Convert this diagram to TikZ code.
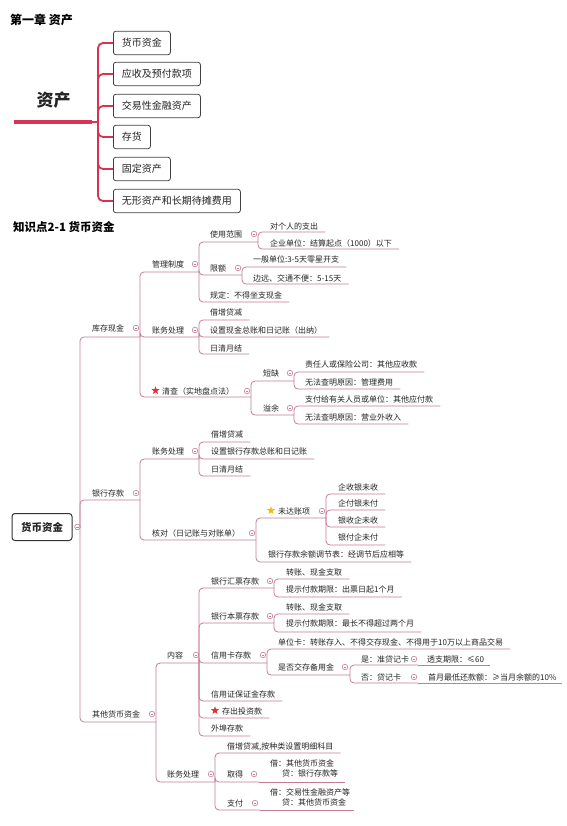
\documentclass[tikz,border=0pt]{standalone}
\usepackage{fontspec}
\usepackage{xcolor}
\usepackage{tikz}
\usetikzlibrary{shapes.geometric}
\setmainfont{Noto Sans CJK SC}

\definecolor{txtgray}{RGB}{36,36,36}
\definecolor{linepink}{RGB}{198,124,150}
\definecolor{brred}{RGB}{214,52,82}
\definecolor{boxgray}{RGB}{64,64,64}
\definecolor{starred}{RGB}{228,48,48}
\definecolor{stargold}{RGB}{245,185,20}

\begin{document}
\begin{tikzpicture}[x=1pt, y=-1pt,
  every node/.style={text=txtgray},
  topic/.style={anchor=west, inner sep=0pt, font=\fontsize{8}{10}\selectfont},
  fold/.style={circle, draw=linepink, fill=white, line width=0.6pt, minimum size=5.6pt, inner sep=0pt,
    path picture={\draw[linepink, line width=0.6pt] ([xshift=1.4pt]path picture bounding box.west) -- ([xshift=-1.4pt]path picture bounding box.east);}},
  branch/.style={draw=linepink, line width=0.8pt, rounded corners=4pt},
  catbox/.style={draw=boxgray, line width=0.8pt, rounded corners=2.5pt, fill=white, anchor=west,
    inner xsep=8.5pt, inner ysep=0pt, minimum height=23.5pt, font=\fontsize{10}{12}\selectfont},
  rootbox/.style={draw=black!80, line width=1pt, rounded corners=3pt, fill=white, inner sep=0pt,
    minimum width=60pt, minimum height=27pt, font=\fontsize{10.5}{12}\selectfont\bfseries},
  bigbar/.style={draw=brred, line width=1.8pt, rounded corners=5pt},
  hotstar/.style={star, star points=5, star point ratio=2.4, inner sep=0pt, minimum size=8.5pt, draw=none}]

  % ---------- canvas ----------
  \fill[white] (0,0) rectangle (566,826);
  \useasboundingbox (0,0) rectangle (566,826);

  % ---------- PART 1: chapter overview ----------
  \node[anchor=west, inner sep=0pt, text=black, font=\fontsize{12}{14}\selectfont\bfseries] (chap) at (10,20) {第一章 资产};
  \node[inner sep=0pt, font=\fontsize{17}{20}\selectfont\bfseries] (zc) at (53.5,100) {资产};
  \coordinate (bar-l) at (14,122);
  \coordinate (bar-r) at (92,122);
  \coordinate (hub) at (98,122);
  \draw[brred, line width=3.6pt] (bar-l) -- (bar-r);
  \draw[bigbar] (bar-r) -- (hub);
  \node[catbox] (c1) at (113,43) {货币资金};
  \node[catbox] (c2) at (113,74) {应收及预付款项};
  \node[catbox] (c3) at (113,106) {交易性金融资产};
  \node[catbox] (c4) at (113,137) {存货};
  \node[catbox] (c5) at (113,169) {固定资产};
  \node[catbox] (c6) at (113,201) {无形资产和长期待摊费用};
  \foreach \c in {c1,c2,c3,c4,c5,c6} \draw[bigbar] (hub) |- (\c.west);

  % ---------- PART 2: mind map ----------
  \node[anchor=west, inner sep=0pt, text=black, font=\fontsize{11.5}{14}\selectfont\bfseries] (kp) at (13,227) {知识点2-1 货币资金};
  \node[rootbox] (root) at (42,527) {货币资金};
  \node[fold] (root-f) at (77.5,527) {};
  \coordinate (root-e) at (80,527);

  % level 1
  \node[topic] (kc) at (92,328) {库存现金};
  \node[fold] (kc-f) at (136,328) {};
  \coordinate (kc-e) at (140,337);
  \node[topic] (yh) at (92,493) {银行存款};
  \node[fold] (yh-f) at (136,493) {};
  \coordinate (yh-e) at (140,500);
  \node[topic] (qt) at (92,714) {其他货币资金};
  \node[fold] (qt-f) at (152,714) {};
  \coordinate (qt-e) at (156,722);
  \foreach \p in {kc,yh,qt} \draw[branch] (root-e) |- (\p-e);

  % ---------- 库存现金 ----------
  \node[topic] (gl) at (152,264) {管理制度};
  \node[fold] (gl-f) at (195,264) {};
  \coordinate (gl-e) at (199,272);
  \node[topic] (zw1) at (152,330) {账务处理};
  \node[fold] (zw1-f) at (195,330) {};
  \coordinate (zw1-e) at (199,337);
  \node[hotstar, fill=starred] (qc-s) at (155.5,390.5) {};
  \node[topic] (qc) at (162,391) {清查（实地盘点法）};
  \node[fold] (qc-f) at (247,391) {};
  \coordinate (qc-e) at (251,397);
  \foreach \p in {gl,zw1,qc} \draw[branch] (kc-e) |- (\p-e);

  % 管理制度
  \node[topic] (sy) at (210,234) {使用范围};
  \node[fold] (sy-f) at (254,234) {};
  \coordinate (sy-e) at (258,242);
  \node[topic] (xe) at (210,268) {限额};
  \node[fold] (xe-f) at (238,268) {};
  \coordinate (xe-e) at (242,275);
  \node[topic] (gd) at (210,295) {规定：不得坐支现金};
  \coordinate (gd-e) at ([xshift=7pt]gd.east |- 0,302);
  \foreach \p in {sy,xe,gd} \draw[branch] (gl-e) |- (\p-e);

  \foreach \n/\y/\uy/\txt in {gr/226/232/对个人的支出, qydw/243/249/企业单位：结算起点（1000）以下} {
    \node[topic] (\n) at (270,\y) {\txt};
    \coordinate (\n-e) at ([xshift=7pt]\n.east |- 0,\uy);
    \draw[branch] (sy-e) |- (\n-e);
  }
  \foreach \n/\y/\uy/\txt in {yb/259/267/一般单位:3-5天零星开支, by/278/284/边远、交通不便：5-15天} {
    \node[topic] (\n) at (253,\y) {\txt};
    \coordinate (\n-e) at ([xshift=7pt]\n.east |- 0,\uy);
    \draw[branch] (xe-e) |- (\n-e);
  }

  % 账务处理 (cash)
  \foreach \n/\y/\uy/\txt in {j1/312/320/借增贷减, sz1/330/337/设置现金总账和日记账（出纳）, rq1/348/354/日清月结} {
    \node[topic] (\n) at (210,\y) {\txt};
    \coordinate (\n-e) at ([xshift=7pt]\n.east |- 0,\uy);
    \draw[branch] (zw1-e) |- (\n-e);
  }

  % 清查
  \node[topic] (dq) at (263,373) {短缺};
  \node[fold] (dq-f) at (290,373) {};
  \coordinate (dq-e) at (294,381);
  \node[topic] (yy) at (263,408) {溢余};
  \node[fold] (yy-f) at (290,408) {};
  \coordinate (yy-e) at (294,415);
  \foreach \p in {dq,yy} \draw[branch] (qc-e) |- (\p-e);
  \foreach \n/\y/\uy/\txt in {zr/364/372/责任人或保险公司：其他应收款, wf1/382/389/无法查明原因：管理费用} {
    \node[topic] (\n) at (305,\y) {\txt};
    \coordinate (\n-e) at ([xshift=7pt]\n.east |- 0,\uy);
    \draw[branch] (dq-e) |- (\n-e);
  }
  \foreach \n/\y/\uy/\txt in {zf1/399/406/支付给有关人员或单位：其他应付款, wf2/417/424/无法查明原因：营业外收入} {
    \node[topic] (\n) at (305,\y) {\txt};
    \coordinate (\n-e) at ([xshift=7pt]\n.east |- 0,\uy);
    \draw[branch] (yy-e) |- (\n-e);
  }

  % ---------- 银行存款 ----------
  \node[topic] (zw2) at (152,451) {账务处理};
  \node[fold] (zw2-f) at (195,451) {};
  \coordinate (zw2-e) at (199,459);
  \node[topic] (hd) at (152,533) {核对（日记账与对账单）};
  \node[fold] (hd-f) at (252,533) {};
  \coordinate (hd-e) at (256,540);
  \foreach \p in {zw2,hd} \draw[branch] (yh-e) |- (\p-e);
  \foreach \n/\y/\uy/\txt in {j2/434/442/借增贷减, sz2/451/459/设置银行存款总账和日记账, rq2/469/476/日清月结} {
    \node[topic] (\n) at (211,\y) {\txt};
    \coordinate (\n-e) at ([xshift=7pt]\n.east |- 0,\uy);
    \draw[branch] (zw2-e) |- (\n-e);
  }

  % 核对
  \node[hotstar, fill=stargold] (wd-s) at (271,510.5) {};
  \node[topic] (wd) at (278,511) {未达账项};
  \node[fold] (wd-f) at (322,511) {};
  \coordinate (wd-e) at (326,518);
  \node[topic] (tj) at (268,554) {银行存款余额调节表：经调节后应相等};
  \coordinate (tj-e) at ([xshift=7pt]tj.east |- 0,562);
  \foreach \p in {wd,tj} \draw[branch] (hd-e) |- (\p-e);
  \foreach \n/\y/\uy/\txt in {w1/487/494/企收银未收, w2/503/510/企付银未付, w3/520/527/银收企未收, w4/537/545/银付企未付} {
    \node[topic] (\n) at (338,\y) {\txt};
    \coordinate (\n-e) at ([xshift=7pt]\n.east |- 0,\uy);
    \draw[branch] (wd-e) |- (\n-e);
  }

  % ---------- 其他货币资金 ----------
  \node[topic] (nr) at (167,655) {内容};
  \node[fold] (nr-f) at (196,655) {};
  \coordinate (nr-e) at (199,663);
  \node[topic] (zw3) at (167,774) {账务处理};
  \node[fold] (zw3-f) at (211,774) {};
  \coordinate (zw3-e) at (215,782);
  \foreach \p in {nr,zw3} \draw[branch] (qt-e) |- (\p-e);

  % 内容
  \node[topic] (hp) at (211,581) {银行汇票存款};
  \node[fold] (hp-f) at (270,581) {};
  \coordinate (hp-e) at (274,588);
  \node[topic] (bp) at (211,616) {银行本票存款};
  \node[fold] (bp-f) at (270,616) {};
  \coordinate (bp-e) at (274,623);
  \node[topic] (xy) at (211,655) {信用卡存款};
  \node[fold] (xy-f) at (263,655) {};
  \coordinate (xy-e) at (267,663);
  \node[topic] (bz) at (211,694) {信用证保证金存款};
  \coordinate (bz-e) at ([xshift=7pt]bz.east |- 0,701);
  \node[hotstar, fill=starred] (ck-s) at (215,710.5) {};
  \node[topic] (ck) at (222,711) {存出投资款};
  \coordinate (ck-e) at ([xshift=7pt]ck.east |- 0,718);
  \node[topic] (wb) at (211,728) {外埠存款};
  \coordinate (wb-e) at ([xshift=7pt]wb.east |- 0,736);
  \foreach \p in {hp,bp,xy,bz,ck,wb} \draw[branch] (nr-e) |- (\p-e);

  \foreach \n/\y/\uy/\txt in {hp1/572/579/转账、现金支取, hp2/589/597/提示付款期限：出票日起1个月} {
    \node[topic] (\n) at (286,\y) {\txt};
    \coordinate (\n-e) at ([xshift=7pt]\n.east |- 0,\uy);
    \draw[branch] (hp-e) |- (\n-e);
  }
  \foreach \n/\y/\uy/\txt in {bp1/607/614/转账、现金支取, bp2/623/632/提示付款期限：最长不得超过两个月} {
    \node[topic] (\n) at (286,\y) {\txt};
    \coordinate (\n-e) at ([xshift=7pt]\n.east |- 0,\uy);
    \draw[branch] (bp-e) |- (\n-e);
  }

  % 信用卡存款
  \node[topic] (dw) at (278,642) {单位卡：转账存入、不得交存现金、不得用于10万以上商品交易};
  \coordinate (dw-e) at ([xshift=7pt]dw.east |- 0,649);
  \node[topic] (sf) at (278,667) {是否交存备用金};
  \node[fold] (sf-f) at (345,667) {};
  \coordinate (sf-e) at (350,675);
  \foreach \p in {dw,sf} \draw[branch] (xy-e) |- (\p-e);
  \node[topic] (zd) at (361,659) {是：准贷记卡};
  \node[fold] (zd-f) at (414,659) {};
  \coordinate (zd-e) at (418,665);
  \node[topic] (dj) at (361,677) {否：贷记卡};
  \node[fold] (dj-f) at (414,677) {};
  \coordinate (dj-e) at (418,683);
  \foreach \p in {zd,dj} \draw[branch] (sf-e) |- (\p-e);
  \node[topic] (tz) at (427,659) {透支期限：≤60};
  \coordinate (tz-e) at ([xshift=6pt]tz.east |- 0,665);
  \node[topic] (hk) at (428,677) {首月最低还款额：≥当月余额的10\%};
  \coordinate (hk-e) at ([xshift=5pt]hk.east |- 0,683);
  \draw[branch] (zd-e) -- (tz-e);
  \draw[branch] (dj-e) -- (hk-e);

  % 账务处理 (other funds)
  \node[topic] (mx) at (227,747) {借增贷减,按种类设置明细科目};
  \coordinate (mx-e) at ([xshift=7pt]mx.east |- 0,753);
  \node[topic] (qd) at (227,774) {取得};
  \node[fold] (qd-f) at (254,774) {};
  \coordinate (qd-e) at (259,782);
  \node[topic] (zf) at (227,803) {支付};
  \node[fold] (zf-f) at (255,803) {};
  \coordinate (zf-e) at (260,810);
  \foreach \p in {mx,qd,zf} \draw[branch] (zw3-e) |- (\p-e);
  \node[topic, align=left] (jd1) at (270,768) {借：其他货币资金\\\hspace*{12pt}贷：银行存款等};
  \coordinate (jd1-e) at ([xshift=7pt]jd1.east |- 0,782);
  \node[topic, align=left] (jd2) at (270,797.5) {借：交易性金融资产等\\\hspace*{12pt}贷：其他货币资金};
  \coordinate (jd2-e) at ([xshift=4pt]jd2.east |- 0,810);
  \draw[branch] (qd-e) -- (jd1-e);
  \draw[branch] (zf-e) -- (jd2-e);
\end{tikzpicture}
\end{document}
